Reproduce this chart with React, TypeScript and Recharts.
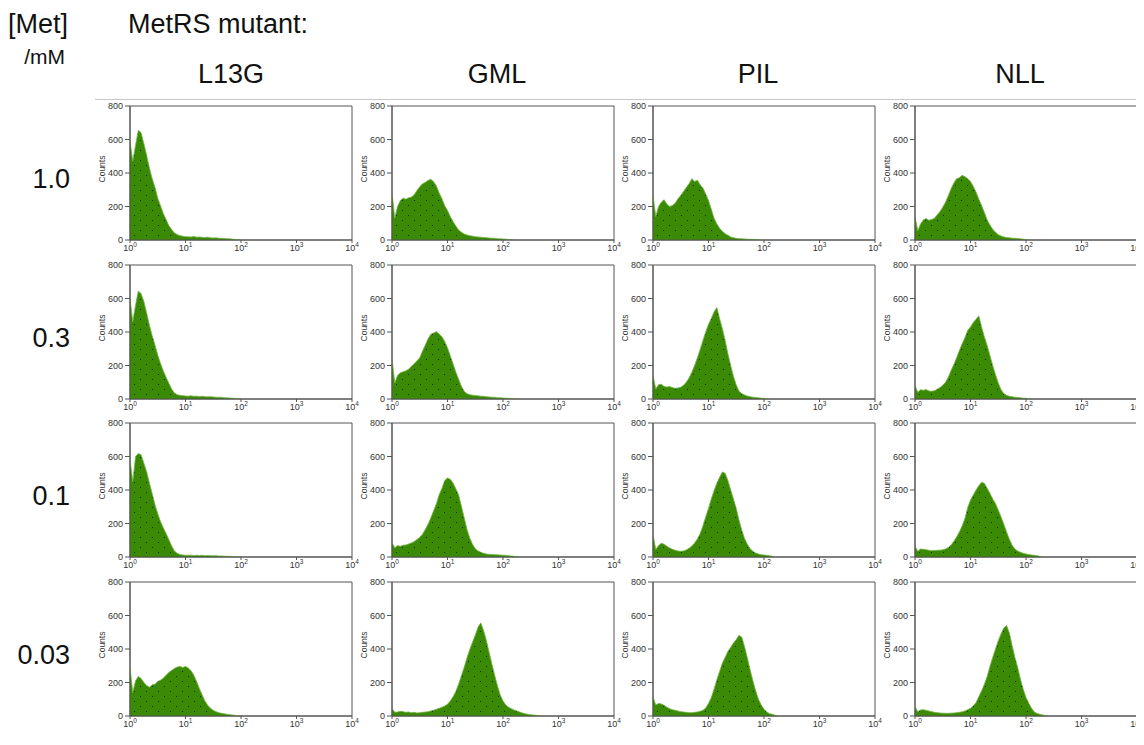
import React from "react";
import { AreaChart, Area, XAxis, YAxis, ReferenceArea } from "recharts";

// ─── Data ─────────────────────────────────────────────────────────────────────
const MUTANTS = ["L13G", "GML", "PIL", "NLL"];
const MET_LEVELS = ["1.0", "0.3", "0.1", "0.03"];

// histogram bin positions, in decades of FL1 (10^0 .. 10^2.7)
const DECADES = [
  0, 0.05, 0.1, 0.15, 0.2, 0.25, 0.3, 0.35, 0.4, 0.45, 0.5, 0.55, 0.6, 0.65, 0.7,
  0.75, 0.8, 0.85, 0.9, 0.95, 1, 1.05, 1.1, 1.15, 1.2, 1.25, 1.3, 1.35, 1.4, 1.45,
  1.5, 1.55, 1.6, 1.65, 1.7, 1.75, 1.8, 1.85, 1.9, 1.95, 2, 2.05, 2.1, 2.15, 2.2,
  2.25, 2.3, 2.35, 2.4, 2.45, 2.5, 2.55, 2.6, 2.65, 2.7,
];
const X_TICKS = [0, 1, 2, 3, 4];
const Y_TICKS = [0, 200, 400, 600, 800];

// counts per bin, one array per mutant / [Met] pair
const L13G_10 = [590, 470, 565, 655, 640, 575, 505, 430, 365, 315, 250, 205, 158, 122, 86, 62, 42, 33, 26, 23, 20, 19, 18, 21, 17, 18, 16, 15, 17, 13, 12, 13, 11, 10, 9, 8, 7, 5, 3, 1, 0];
const L13G_03 = [600, 460, 560, 645, 628, 582, 512, 440, 378, 322, 262, 212, 168, 130, 94, 60, 36, 26, 22, 20, 18, 17, 19, 16, 17, 15, 16, 14, 13, 14, 12, 11, 10, 10, 8, 7, 6, 5, 3, 1, 0];
const L13G_01 = [580, 450, 600, 618, 610, 560, 508, 442, 378, 312, 258, 212, 174, 140, 104, 66, 36, 22, 15, 12, 11, 10, 11, 9, 10, 9, 10, 8, 9, 8, 7, 8, 6, 6, 5, 4, 4, 3, 2, 1, 0];
const L13G_003 = [290, 140, 210, 236, 224, 200, 182, 172, 186, 190, 206, 214, 226, 244, 260, 272, 284, 292, 296, 290, 296, 286, 270, 244, 206, 164, 126, 90, 64, 46, 34, 26, 20, 16, 13, 10, 8, 6, 3, 1, 0];

const GML_10 = [280, 130, 200, 236, 250, 244, 252, 256, 270, 296, 318, 336, 344, 356, 362, 348, 322, 280, 246, 204, 176, 140, 110, 84, 60, 46, 36, 30, 26, 23, 20, 18, 17, 15, 14, 12, 11, 10, 8, 7, 6, 5, 3, 2, 0];
const GML_03 = [240, 95, 140, 156, 162, 168, 178, 196, 210, 228, 246, 286, 322, 360, 386, 394, 402, 388, 372, 344, 306, 258, 210, 160, 118, 76, 46, 32, 26, 23, 21, 19, 17, 16, 14, 12, 11, 10, 8, 7, 6, 5, 4, 2, 1, 0];
const GML_01 = [85, 55, 68, 64, 70, 72, 78, 84, 92, 104, 118, 136, 164, 196, 234, 276, 318, 372, 410, 456, 472, 464, 442, 408, 372, 304, 236, 166, 114, 76, 50, 36, 28, 22, 18, 16, 15, 14, 13, 12, 11, 10, 8, 6, 4, 2, 0];
const GML_003 = [45, 22, 24, 28, 26, 22, 24, 20, 22, 18, 20, 22, 24, 26, 30, 35, 40, 46, 52, 60, 70, 90, 115, 146, 190, 240, 290, 346, 396, 440, 482, 530, 556, 510, 452, 380, 310, 244, 180, 126, 90, 66, 52, 44, 36, 30, 24, 18, 14, 10, 8, 6, 4, 2, 0];

const PIL_10 = [265, 140, 200, 226, 240, 214, 200, 206, 220, 246, 266, 290, 314, 336, 366, 350, 356, 330, 310, 274, 236, 184, 130, 96, 70, 52, 38, 28, 18, 14, 10, 8, 7, 6, 5, 4, 4, 3, 2, 0];
const PIL_03 = [140, 60, 85, 88, 75, 72, 74, 68, 64, 66, 70, 82, 100, 126, 160, 200, 246, 296, 350, 400, 446, 480, 520, 546, 480, 420, 350, 270, 200, 134, 84, 46, 32, 24, 18, 14, 11, 9, 7, 5, 4, 2, 0];
const PIL_01 = [135, 45, 68, 82, 76, 64, 54, 46, 40, 36, 34, 36, 42, 52, 66, 84, 108, 140, 186, 240, 290, 346, 396, 440, 476, 508, 500, 456, 400, 346, 290, 220, 160, 110, 76, 50, 34, 24, 18, 14, 12, 10, 8, 4, 0];
const PIL_003 = [115, 65, 75, 72, 64, 52, 44, 38, 34, 30, 26, 24, 22, 20, 20, 22, 24, 28, 34, 48, 75, 110, 160, 216, 266, 316, 350, 386, 410, 436, 456, 482, 470, 414, 346, 276, 210, 150, 100, 66, 40, 24, 14, 10, 5, 0];

const NLL_10 = [140, 55, 95, 120, 128, 118, 122, 130, 150, 170, 196, 226, 264, 306, 340, 366, 372, 386, 378, 366, 350, 320, 286, 244, 206, 164, 120, 90, 64, 46, 32, 24, 18, 15, 13, 11, 10, 9, 7, 5, 2, 0];
const NLL_03 = [80, 40, 55, 52, 56, 48, 46, 50, 58, 68, 82, 100, 130, 170, 206, 246, 290, 330, 366, 410, 430, 456, 476, 496, 430, 370, 320, 260, 200, 146, 96, 56, 32, 22, 16, 13, 11, 9, 7, 5, 4, 2, 0];
const NLL_01 = [65, 34, 48, 46, 44, 40, 38, 39, 40, 41, 43, 48, 56, 72, 94, 120, 150, 186, 230, 296, 340, 370, 400, 426, 446, 440, 410, 380, 346, 320, 280, 240, 196, 150, 106, 70, 48, 36, 28, 22, 18, 15, 12, 10, 8, 4, 0];
const NLL_003 = [55, 26, 36, 38, 34, 30, 26, 22, 20, 18, 17, 16, 16, 17, 18, 20, 22, 25, 30, 38, 46, 60, 80, 116, 150, 190, 236, 296, 350, 400, 450, 490, 526, 540, 496, 420, 350, 290, 220, 160, 110, 76, 46, 24, 15, 10, 6, 3, 0];

// rows follow MET_LEVELS, columns follow MUTANTS
const PANELS = [
  [L13G_10, GML_10, PIL_10, NLL_10],
  [L13G_03, GML_03, PIL_03, NLL_03],
  [L13G_01, GML_01, PIL_01, NLL_01],
  [L13G_003, GML_003, PIL_003, NLL_003],
];

// ─── Layout ───────────────────────────────────────────────────────────────────
const FONT = '"Liberation Sans", Arial, Helvetica, sans-serif';
const AXIS = "#555";
const GREEN = "#3b8a05";
const PLOT_W = 222;
const PLOT_H = 134;
const COL_LEFT = (c: number) => Math.round(130 + c * 261.7);
const ROW_TOP = (r: number) => Math.round(106 + r * 158.7);
const TITLE_X = [231, 497, 758, 1020];

function DecadeTick({ x, y, payload }: any) {
  return (
    <text x={x} y={y + 6.5} textAnchor="middle" fontSize={9} fill="#333" fontFamily={FONT}>
      10
      <tspan dy={-3.5} fontSize={6.5}>
        {payload.value}
      </tspan>
    </text>
  );
}

function CountsLabel({ viewBox }: any) {
  if (!viewBox) return null;
  const cx = viewBox.x + 2;
  const cy = viewBox.y + viewBox.height / 2 - 4;
  return (
    <text
      x={cx}
      y={cy}
      transform={`rotate(-90 ${cx} ${cy})`}
      textAnchor="middle"
      dominantBaseline="central"
      fontSize={8.5}
      fill="#333"
      fontFamily={FONT}
    >
      Counts
    </text>
  );
}

function Histogram({ id, counts, fl1 }: { id: string; counts: number[]; fl1: boolean }) {
  const data = DECADES.map((d, i) => ({ d, n: i < counts.length ? counts[i] : null }));
  const xHeight = fl1 ? 38 : 24;
  return (
    <AreaChart
      width={40 + PLOT_W + 10}
      height={8 + PLOT_H + xHeight}
      data={data}
      margin={{ top: 8, right: 10, bottom: 0, left: 10 }}
    >
      <defs>
        <pattern id={`dots-${id}`} width={12} height={10} patternUnits="userSpaceOnUse">
          <rect width={12} height={10} fill={GREEN} />
          <rect x={2} y={2} width={1} height={1} fill="#0f2a00" />
          <rect x={8} y={7} width={1} height={1} fill="#0f2a00" />
        </pattern>
      </defs>
      <XAxis
        dataKey="d"
        type="number"
        domain={[0, 4]}
        ticks={X_TICKS}
        interval={0}
        tick={<DecadeTick />}
        tickSize={3}
        tickMargin={1}
        stroke={AXIS}
        height={xHeight}
        allowDataOverflow
        label={
          fl1
            ? { value: "FL1", position: "insideBottom", offset: 11, fontSize: 9, fill: "#333", fontFamily: FONT }
            : undefined
        }
      />
      <YAxis
        type="number"
        domain={[0, 800]}
        ticks={Y_TICKS}
        interval={0}
        width={30}
        tickSize={5}
        tickMargin={2}
        stroke={AXIS}
        tick={{ fontSize: 9, fill: "#333", fontFamily: FONT }}
        allowDataOverflow
        label={<CountsLabel />}
      />
      {/* plot frame */}
      <ReferenceArea
        x1={0}
        x2={4}
        y1={0}
        y2={800}
        fill="none"
        stroke={AXIS}
        strokeWidth={1}
        ifOverflow="visible"
      />
      <Area
        type="linear"
        dataKey="n"
        stroke="#72b443"
        strokeWidth={0.8}
        fill={`url(#dots-${id})`}
        fillOpacity={1}
        dot={false}
        activeDot={false}
        isAnimationActive={false}
      />
    </AreaChart>
  );
}

export default function App() {
  return (
    <div
      style={{
        position: "relative",
        width: 1144,
        height: 745,
        margin: -8,
        background: "#fff",
        overflow: "hidden",
        fontFamily: FONT,
      }}
    >
      <svg width={1144} height={745} style={{ position: "absolute", left: 0, top: 0 }}>
        <line x1={95} y1={99.5} x2={1144} y2={99.5} stroke="#c8c8c8" />
        <g fontFamily={FONT} fill="#111">
          <text x={8} y={33} fontSize={27}>
            [Met]
          </text>
          <text x={65} y={64} fontSize={21} textAnchor="end">
            /mM
          </text>
          <text x={128} y={33} fontSize={27}>
            MetRS mutant:
          </text>
          {MUTANTS.map((m, c) => (
            <text key={m} x={TITLE_X[c]} y={83} fontSize={27} textAnchor="middle">
              {m}
            </text>
          ))}
          {MET_LEVELS.map((lvl, r) => (
            <text key={lvl} x={70} y={ROW_TOP(r) + 82} fontSize={27} textAnchor="end">
              {lvl}
            </text>
          ))}
        </g>
      </svg>
      {PANELS.map((row, r) =>
        row.map((counts, c) => (
          <div
            key={`${r}-${c}`}
            style={{ position: "absolute", left: COL_LEFT(c) - 40, top: ROW_TOP(r) - 8 }}
          >
            <Histogram id={`${r}-${c}`} counts={counts} fl1={r === PANELS.length - 1} />
          </div>
        ))
      )}
    </div>
  );
}
